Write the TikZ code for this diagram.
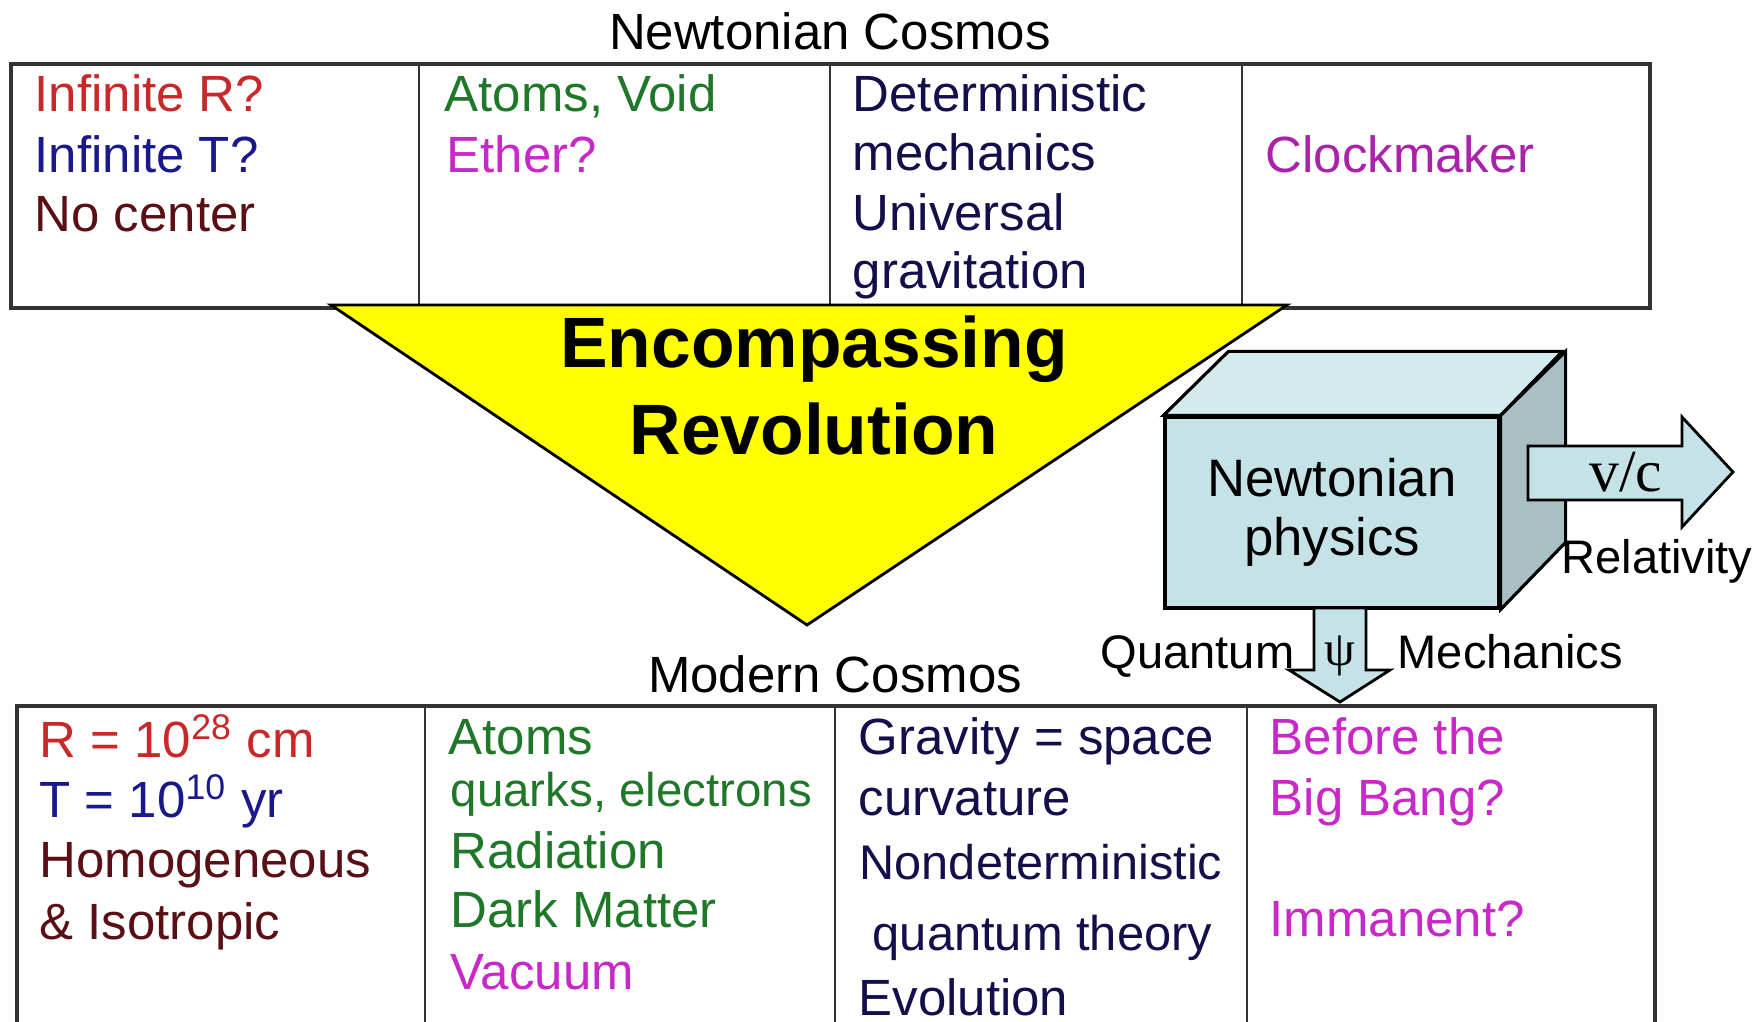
\documentclass[tikz,border=0pt]{standalone}
\usepackage{fontspec}
\setmainfont{Liberation Sans}
\newfontfamily\serifface{Liberation Serif}
\definecolor{redtxt}{RGB}{200,40,40}
\definecolor{bluetxt}{RGB}{25,25,140}
\definecolor{maroontxt}{RGB}{90,15,20}
\definecolor{greentxt}{RGB}{30,120,40}
\definecolor{magentatxt}{RGB}{200,40,200}
\definecolor{navytxt}{RGB}{20,15,75}
\definecolor{cubefront}{RGB}{197,227,230}
\definecolor{cubetop}{RGB}{211,235,238}
\definecolor{cubeside}{RGB}{168,192,195}
\definecolor{revolyellow}{RGB}{255,255,0}
\tikzset{
  celltxt/.style={anchor=base west, inner sep=0pt, font=\fontsize{14.5}{17}\selectfont},
  heading/.style={anchor=base, inner sep=0pt, font=\fontsize{14.5}{17}\selectfont},
  armlabel/.style={inner sep=0pt, font=\fontsize{13.4}{16}\selectfont},
  bigtxt/.style={anchor=base, inner sep=0pt, font=\fontsize{20.3}{23}\selectfont\bfseries},
  frame/.style={line width=0.9pt, draw=black!80},
  gridline/.style={line width=0.7pt, draw=black!80},
  blockarrow/.style={fill=cubefront, draw=black, line width=0.8pt, line join=miter}
}
\begin{document}
\begin{tikzpicture}[x=0.1mm, y=-0.1mm]
    \useasboundingbox (0,0) rectangle (1758,1022);
    % Newtonian cosmos table
    \node[heading] (ntitle) at (830,50) {Newtonian Cosmos};
    \draw[frame] (11,64) rectangle (1650,308);
    \foreach \x in {419,830,1242}
      \draw[gridline] (\x,64) -- (\x,308);
    \node[celltxt, text=redtxt] (nradius) at (34,112) {Infinite R?};
    \node[celltxt, text=bluetxt] (ntime) at (34,173) {Infinite T?};
    \node[celltxt, text=maroontxt] (ncenter) at (34,232) {No center};
    \node[celltxt, text=greentxt] (natoms) at (444,112) {Atoms, Void};
    \node[celltxt, text=magentatxt] (nether) at (446,173) {Ether?};
    \node[celltxt, text=navytxt] (ndet) at (852,112) {Deterministic};
    \node[celltxt, text=navytxt] (nmech) at (852,171) {mechanics};
    \node[celltxt, text=navytxt] (nuniv) at (852,231) {Universal};
    \node[celltxt, text=navytxt] (ngrav) at (852,289) {gravitation};
    \node[celltxt, text=magentatxt!85!black] (nclock) at (1265,173) {Clockmaker};
    % the revolution triangle
    \draw[fill=revolyellow, draw=black, line width=0.8pt] (331,305) -- (1287,305) -- (807,625) -- cycle;
    \node[bigtxt] (enc) at (814,368) {Encompassing};
    \node[bigtxt] (rev) at (814,455) {Revolution};
    % Newtonian physics cube
    \node[draw=black, line width=0.9pt, fill=cubefront, minimum width=33.4mm, minimum height=19.1mm,
          align=center, font=\fontsize{15}{16.8}\selectfont] (front) at (1332,512.5) {Newtonian\\physics};
    \draw[fill=cubetop, line width=0.9pt] (front.north west) -- ++(65,-64) -- ++(334,0) -- (front.north east) -- cycle;
    \draw[fill=cubeside, line width=0.9pt] (front.north east) -- ++(65,-64) -- ++(0,191) -- (front.south east) -- cycle;
    % relativity arrow
    \draw[blockarrow] (1528,446) -- (1682,446) -- (1682,417) -- (1733,472) -- (1682,527) -- (1682,500) -- (1528,500) -- cycle;
    \node[inner sep=0pt, font=\fontsize{17}{20}\selectfont\serifface] (vc) at (1626,472) {v/c};
    \node[armlabel, anchor=base] (relat) at (1657,574) {Relativity};
    % quantum arrow
    \draw[blockarrow] (1314,608) -- (1314,670) -- (1289,670) -- (1340,702) -- (1390,670) -- (1366,670) -- (1366,608) -- cycle;
    \node[inner sep=0pt, font=\fontsize{14}{16}\selectfont\serifface] (psi) at (1340,656) {ψ};
    \node[armlabel, anchor=base east] (quant) at (1295,669) {Quantum};
    \node[armlabel, anchor=base west] (mechs) at (1397,669) {Mechanics};
    % modern cosmos table
    \node[heading] (mtitle) at (835,693) {Modern Cosmos};
    \draw[frame] (17,1022) -- (17,706) -- (1655,706) -- (1655,1022);
    \foreach \x in {425,835,1247}
      \draw[gridline] (\x,706) -- (\x,1022);
    \node[celltxt, text=redtxt] (mradius) at (39,758) {R = 10\textsuperscript{28} cm};
    \node[celltxt, text=bluetxt] (mtime) at (39,818) {T = 10\textsuperscript{10} yr};
    \node[celltxt, text=maroontxt] (mhomog) at (39,878) {Homogeneous};
    \node[celltxt, text=maroontxt] (miso) at (39,940) {\& Isotropic};
    \node[celltxt, text=greentxt] (matoms) at (448,755) {Atoms};
    \node[celltxt, text=greentxt, font=\fontsize{13.5}{16}\selectfont] (mquarks) at (450,807) {quarks, electrons};
    \node[celltxt, text=greentxt] (mrad) at (450,869) {Radiation};
    \node[celltxt, text=greentxt] (mdark) at (450,928) {Dark Matter};
    \node[celltxt, text=magentatxt] (mvac) at (450,990) {Vacuum};
    \node[celltxt, text=navytxt] (mgrav) at (858,755) {Gravity = space};
    \node[celltxt, text=navytxt] (mcurv) at (858,816) {curvature};
    \node[celltxt, text=navytxt, font=\fontsize{13.85}{17}\selectfont] (mnondet) at (859,880) {Nondeterministic};
    \node[celltxt, text=navytxt, font=\fontsize{13.9}{17}\selectfont] (mqt) at (872,951) {quantum theory};
    \node[celltxt, text=navytxt] (mevol) at (858,1016) {Evolution};
    \node[celltxt, text=magentatxt] (mbefore) at (1269,755) {Before the};
    \node[celltxt, text=magentatxt] (mbang) at (1269,816) {Big Bang?};
    \node[celltxt, text=magentatxt] (mimman) at (1269,937) {Immanent?};
\end{tikzpicture}
\end{document}
